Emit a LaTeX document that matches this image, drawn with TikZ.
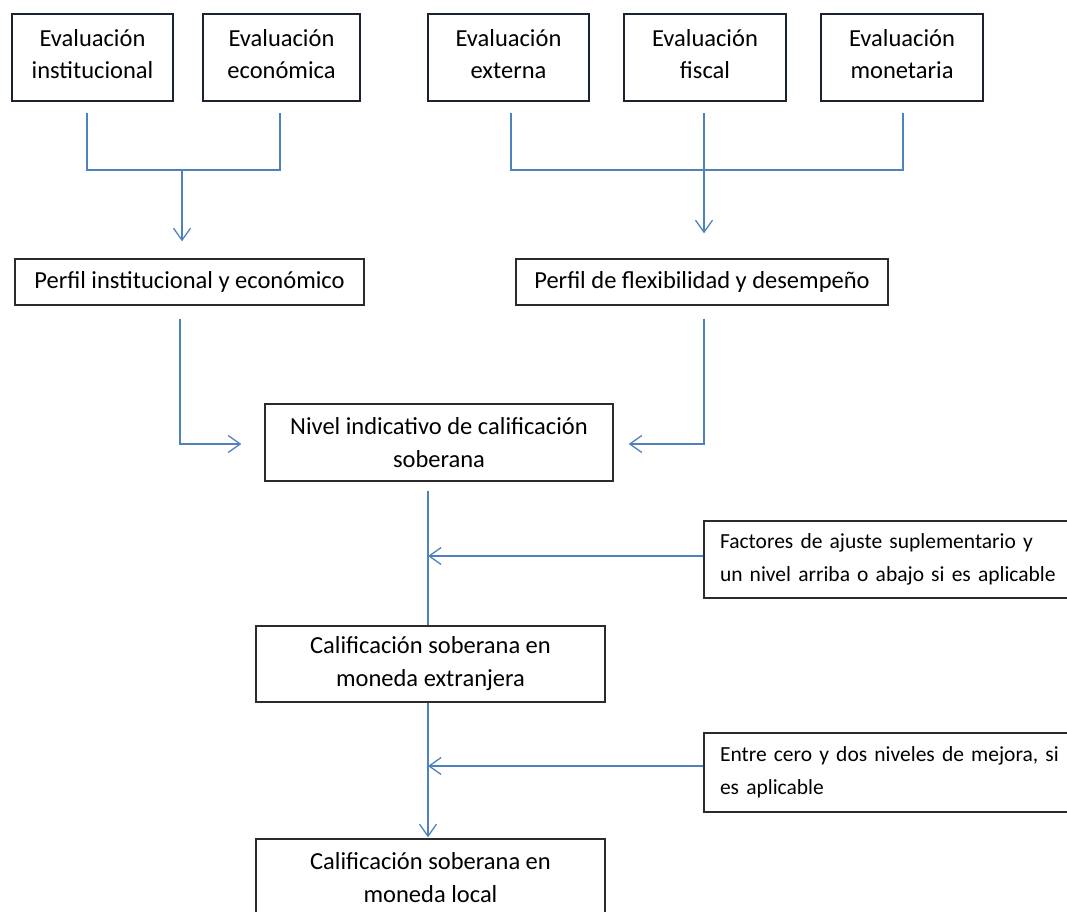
\documentclass[tikz,border=0pt]{standalone}
\usepackage{fontspec}
\setmainfont{Carlito}
\usetikzlibrary{arrows.meta}

\definecolor{linkblue}{HTML}{4F81BD}
\definecolor{evalnavy}{HTML}{1B2333}
\definecolor{boxgray}{HTML}{2B2B2B}

\tikzset{
	evalbox/.style={draw=evalnavy, line width=2.4pt, minimum height=87pt, align=center,
		inner sep=0pt, text depth=8pt, font=\fontsize{24.5pt}{32pt}\selectfont},
	stagebox/.style={draw=boxgray, line width=1.4pt, align=center, inner sep=0pt,
		font=\fontsize{24.5pt}{33pt}\selectfont},
	notebox/.style={draw=boxgray, line width=1.4pt, align=left, inner xsep=16pt, inner ysep=0pt,
		text width=339pt, minimum width=371pt, font=\fontsize{21.5pt}{33pt}\selectfont},
	link/.style={draw=linkblue, line width=1.3pt},
	flow/.style={link, -{Straight Barb[length=12pt,width=17pt,line width=1.3pt]}}
}

\begin{document}
\begin{tikzpicture}[x=1pt, y=-1pt]
	\useasboundingbox (0,0) rectangle (1067,911);
	\clip (0,0) rectangle (1067,911);

% top row of evaluations
	\node[evalbox, minimum width=161pt] (e1) at (92.5,57.5) {Evaluación\\institucional};
	\node[evalbox, minimum width=157pt] (e2) at (281.5,57.5) {Evaluación\\económica};
	\node[evalbox, minimum width=161pt] (e3) at (508.5,57.5) {Evaluación\\externa};
	\node[evalbox, minimum width=162pt] (e4) at (705,57.5) {Evaluación\\fiscal};
	\node[evalbox, minimum width=162pt] (e5) at (902,57.5) {Evaluación\\monetaria};

% profiles
	\node[stagebox, minimum width=349pt, minimum height=46pt] (p1) at (189.5,282) {Perfil institucional y económico};
	\node[stagebox, minimum width=372pt, minimum height=46pt] (p2) at (702,282) {Perfil de flexibilidad y desempeño};

% rating chain
	\node[stagebox, minimum width=348pt, minimum height=77pt] (niv) at (439,442.5) {Nivel indicativo de calificación\\soberana};
	\node[stagebox, minimum width=349pt, minimum height=76pt] (ext) at (430.5,664) {Calificación soberana en\\moneda extranjera};
	\node[stagebox, minimum width=349pt, minimum height=77pt] (loc) at (430.5,877.5) {Calificación soberana en\\moneda local};

% adjustments
	\node[notebox, minimum height=77pt] (fac) at (889.5,559.5) {Factores de ajuste suplementario y\\un nivel arriba o abajo si es aplicable};
	\node[notebox, minimum height=79pt] (ent) at (889.5,772.5) {Entre cero y dos niveles de mejora, si\\es aplicable};

% joints
	\coordinate (j1) at (182,170);
	\coordinate (j2) at (704,170);
	\coordinate (s1) at ([xshift=-11pt,yshift=-9pt]niv.south);

% connectors
	\draw[link] ([xshift=-5.5pt,yshift=-11pt]e1.south) |- (j1) -| ([xshift=-1.5pt,yshift=-11pt]e2.south);
	\draw[flow] (j1) -- ([yshift=17pt]j1 |- p1.north);
	\draw[link] ([xshift=2.5pt,yshift=-11pt]e3.south) |- (j2) -| ([xshift=1pt,yshift=-11pt]e5.south);
	\draw[flow] ([xshift=-1pt,yshift=-11pt]e4.south) -- ([yshift=25pt]j2 |- p2.north);

	\draw[flow] ([xshift=-9.5pt,yshift=-13pt]p1.south) |- ([xshift=-23pt,yshift=-1.5pt]niv.west);
	\draw[flow] ([xshift=2pt,yshift=-13pt]p2.south) |- ([xshift=15pt,yshift=-1.5pt]niv.east);

	\draw[link] (s1) -- (s1 |- ext.north);
	\draw[flow] ([yshift=3.5pt]fac.west) -- ([yshift=3.5pt]fac.west -| s1);
	\draw[flow] (s1 |- ext.south) -- ([yshift=1pt]s1 |- loc.north);
	\draw[flow] ([yshift=6.5pt]ent.west) -- ([yshift=6.5pt]ent.west -| s1);
\end{tikzpicture}
\end{document}
